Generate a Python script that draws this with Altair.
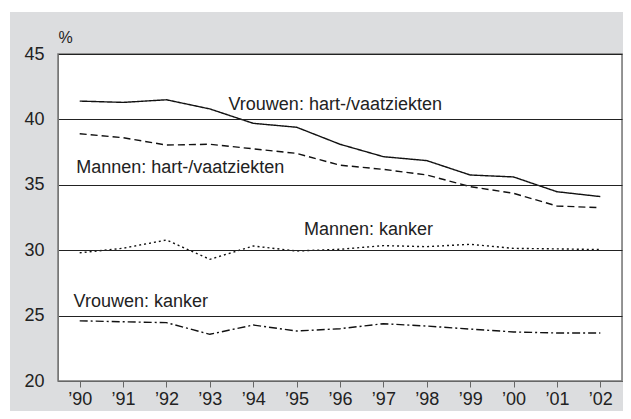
import altair as alt
import pandas as pd

years = list(range(1990, 2003))
vrouwen_hart = [41.4, 41.3, 41.5, 40.8, 39.7, 39.4, 38.1, 37.15, 36.85, 35.75, 35.6, 34.47, 34.1]
mannen_hart = [38.9, 38.6, 38.04, 38.1, 37.75, 37.4, 36.5, 36.18, 35.75, 34.86, 34.35, 33.38, 33.25]
mannen_kanker = [29.8, 30.15, 30.78, 29.3, 30.32, 29.94, 30.07, 30.35, 30.27, 30.45, 30.14, 30.1, 30.05]
vrouwen_kanker = [24.6, 24.53, 24.46, 23.57, 24.28, 23.82, 24.0, 24.38, 24.2, 23.97, 23.75, 23.67, 23.67]

series_names = ["Vrouwen: hart-/vaatziekten", "Mannen: hart-/vaatziekten",
                "Mannen: kanker", "Vrouwen: kanker"]
series_values = [vrouwen_hart, mannen_hart, mannen_kanker, vrouwen_kanker]

label_x = [1993.43, 1989.92, 1995.17, 1989.86]
label_y = [40.72, 35.93, 31.16, 25.63]

y_ticks = [20, 25, 30, 35, 40, 45]

rows = []
for name, vals in zip(series_names, series_values):
    for yr, v in zip(years, vals):
        rows.append({"jaar": yr, "pct": v, "reeks": name})
df = pd.DataFrame(rows)
labels = pd.DataFrame({"reeks": series_names, "x": label_x, "y": label_y})

W, H = 564, 327
FONT = "Liberation Sans"
GRAY = "#dcdddf"

xscale = alt.Scale(domain=[1989.5, 2002.5], nice=False, zero=False)
yscale = alt.Scale(domain=[20, 45], nice=False, zero=False)

one = pd.DataFrame({"a": [0]})

bg = alt.Chart(one).mark_rect(color=GRAY).encode(
    x=alt.value(-48), x2=alt.value(600), y=alt.value(-42), y2=alt.value(380)
)
plotbg = alt.Chart(one).mark_rect(fill="white", stroke="#777", strokeWidth=1.5).encode(
    x=alt.value(0), x2=alt.value(W), y=alt.value(0), y2=alt.value(H)
)

lines = alt.Chart(df).mark_line(color="#111", strokeWidth=1.4).encode(
    x=alt.X("jaar:Q", scale=xscale,
            axis=alt.Axis(values=years, title=None, grid=False,
                          labelExpr="'’' + slice(toString(datum.value), 2)",
                          tickSize=6, tickColor="#666", domainColor="#666",
                          labelPadding=3, labelFontSize=18, labelFont=FONT,
                          labelColor="#222", zindex=1)),
    y=alt.Y("pct:Q", scale=yscale,
            axis=alt.Axis(values=y_ticks, title=None, grid=True, gridColor="#222",
                          gridWidth=1, ticks=False, domainColor="#777",
                          labelPadding=14, labelFontSize=18, labelFont=FONT,
                          labelColor="#222", zindex=1)),
    strokeDash=alt.StrokeDash("reeks:N",
                              scale=alt.Scale(domain=series_names,
                                              range=[[1, 0], [7, 4], [2, 3], [8, 3, 2, 3]]),
                              legend=None),
    detail="reeks:N",
)

texts = alt.Chart(labels).mark_text(align="left", baseline="alphabetic", fontSize=18,
                                     font=FONT, color="#222").encode(
    x=alt.X("x:Q", scale=xscale), y=alt.Y("y:Q", scale=yscale), text="reeks:N"
)

pct = alt.Chart(one).mark_text(text="%", fontSize=16, font=FONT, color="#222",
                               align="center", baseline="middle").encode(
    x=alt.value(7.5), y=alt.value(-16.5)
)

chart = alt.layer(bg, plotbg, lines, texts, pct).properties(
    width=W, height=H,
    autosize=alt.AutoSizeParams(type="none"),
    padding={"left": 50, "top": 46, "right": 1, "bottom": 30},
).configure_view(stroke=None).configure(background="white")

chart.save("out.html", embed_options={"renderer": "svg", "actions": False})
